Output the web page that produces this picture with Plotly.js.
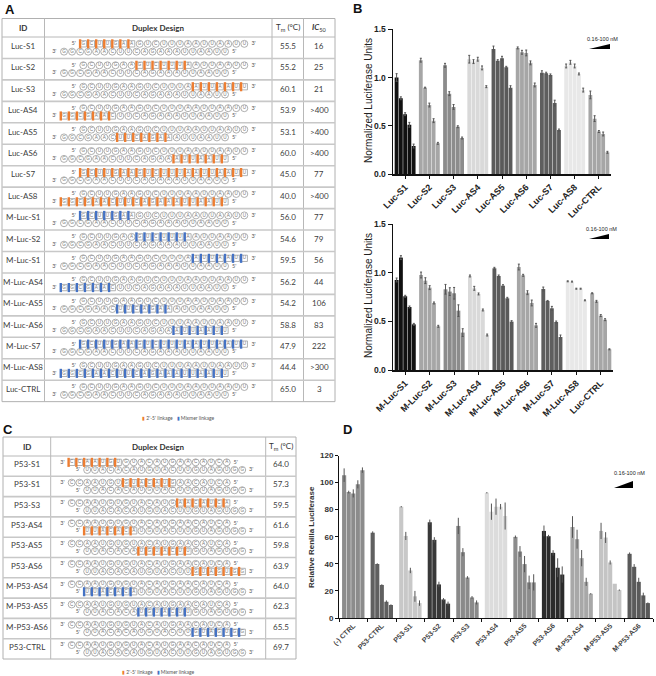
<!DOCTYPE html>
<html><head><meta charset="utf-8">
<script src="https://cdn.plot.ly/plotly-3.0.1.min.js"></script>
<style>html,body{margin:0;padding:0;background:#fff}#chart{width:656px;height:676px}</style>
</head><body><div id="chart"></div>
<script>
// ---------------- Panel A (table) ----------------
const lucSense = "GCUUGAAGUCUUUAAUUAAUU";        // 5'->3' (top line)
const lucAntisense = "GGCGAACUUCAGAAAUUAAUU";    // 3'->5' (bottom line)
const lucIds = ["Luc-S1","Luc-S2","Luc-S3","Luc-AS4","Luc-AS5","Luc-AS6","Luc-S7","Luc-AS8","M-Luc-S1","M-Luc-S2","M-Luc-S1","M-Luc-AS4","M-Luc-AS5","M-Luc-AS6","M-Luc-S7","M-Luc-AS8","Luc-CTRL"];
const lucTm = ["55.5","55.2","60.1","53.9","53.1","60.0","45.0","40.0","56.0","54.6","59.5","56.2","54.2","58.8","47.9","44.4","65.0"];
const lucIC50 = ["16","25","21",">400",">400",">400","77",">400","77","79","56","44","106","83","222",">300","3"];
const lucModStrand = ["S","S","S","AS","AS","AS","S","AS","S","S","S","AS","AS","AS","S","AS",""];
const lucModType = ["2'-5'","2'-5'","2'-5'","2'-5'","2'-5'","2'-5'","2'-5'","2'-5'","mix","mix","mix","mix","mix","mix","mix","mix",""];
const lucModStart = [0,7,14,0,7,14,0,0,0,7,14,0,7,14,0,0,-1];
const lucModEnd   = [6,13,20,6,13,20,20,20,6,13,20,6,13,20,20,20,-1];

// ---------------- Panel C (table) ----------------
const p53Top = "CCAAUGUGUACAUGAACAUCA";      // 3'->5' (top line)
const p53Bottom = "UUACACAUGUACUUGUAGUGG";   // 5'->3' (bottom line)
const p53Ids = ["P53-S1","P53-S1","P53-S3","P53-AS4","P53-AS5","P53-AS6","M-P53-AS4","M-P53-AS5","M-P53-AS6","P53-CTRL"];
const p53Tm = ["64.0","57.3","59.5","61.6","59.8","63.9","64.0","62.3","65.5","69.7"];
const p53ModStrand = ["S","S","S","AS","AS","AS","AS","AS","AS",""];
const p53ModType = ["2'-5'","2'-5'","2'-5'","2'-5'","2'-5'","2'-5'","mix","mix","mix",""];
const p53ModStart = [0,7,14,0,7,14,0,7,14,-1];
const p53ModEnd   = [6,13,20,6,13,20,6,13,20,-1];

// ---------------- Panel B (bar charts) ----------------
const lucGroups = ["Luc-S1","Luc-S2","Luc-S3","Luc-AS4","Luc-AS5","Luc-AS6","Luc-S7","Luc-AS8","Luc-CTRL"];
const lucValues = [
  [1.00,0.785,0.62,0.51,0.29],
  [1.18,0.895,0.715,0.553,0.318],
  [1.127,0.833,0.695,0.49,0.373],
  [1.19,1.165,1.19,1.10,0.905],
  [1.296,1.175,1.20,1.106,0.895],
  [1.307,1.262,1.255,1.152,0.923],
  [1.05,1.045,1.027,0.735,0.456],
  [1.12,1.158,1.12,1.037,0.87],
  [0.82,0.574,0.44,0.415,0.225]];
const lucErrors = [
  [0.04,0.015,0.015,0.025,0.02],
  [0.02,0.005,0.02,0.02,0.01],
  [0.02,0.02,0.025,0.01,0.01],
  [0.04,0.02,0.02,0.02,0.01],
  [0.03,0.01,0.02,0.01,0.02],
  [0.01,0.02,0.03,0.02,0.02],
  [0.02,0.01,0.01,0.03,0.01],
  [0.02,0.02,0.02,0.01,0.02],
  [0.04,0.03,0.01,0.02,0.01]];
const mlucGroups = ["M-Luc-S1","M-Luc-S2","M-Luc-S3","M-Luc-AS4","M-Luc-AS5","M-Luc-AS6","M-Luc-S7","M-Luc-AS8","Luc-CTRL"];
const mlucValues = [
  [0.927,1.157,0.759,0.649,0.47],
  [0.978,0.92,0.848,0.69,0.45],
  [0.831,0.807,0.79,0.611,0.385],
  [0.968,0.841,0.783,0.618,0.36],
  [1.047,0.968,0.868,0.738,0.498],
  [1.06,0.975,0.796,0.69,0.46],
  [0.834,0.711,0.635,0.494,0.34],
  [0.913,0.91,0.837,0.837,0.717],
  [0.79,0.707,0.56,0.518,0.213]];
const mlucErrors = [
  [0.02,0.02,0.01,0.01,0.01],
  [0.03,0.03,0.02,0.01,0.01],
  [0.05,0.04,0.06,0.06,0.04],
  [0.01,0.02,0.01,0.01,0.01],
  [0.01,0.01,0.01,0.01,0.01],
  [0.03,0.01,0.02,0.03,0.02],
  [0.02,0.005,0.02,0.01,0.02],
  [0.005,0.005,0.005,0.005,0.005],
  [0.005,0.01,0.01,0.01,0.005]];
const lucColors = ["#111111","#a6a6a6","#8c8c8c","#d9d9d9","#5a5a5a","#a6a6a6","#5e5e5e","#e8e8e8","#a6a6a6"];
const lucYTitle = "Normalized Luciferase Units";

// ---------------- Panel D (bar chart) ----------------
const p53Groups = ["(-) CTRL","P53-CTRL","P53-S1","P53-S2","P53-S3","P53-AS4","P53-AS5","P53-AS6","M-P53-AS4","M-P53-AS5","M-P53-AS6"];
const p53Values = [
  [105.5,93.0,92.0,98.7,109.2],
  [63.0,39.9,24.4,12.0,9.6],
  [82.2,60.6,35.1,16.0,11.0],
  [70.7,57.7,24.8,13.7,10.6],
  [68.0,48.6,29.9,15.2,11.5],
  [92.5,78.5,82.2,82.2,75.3],
  [59.9,49.1,39.8,26.3,26.3],
  [64.3,60.4,48.1,37.1,32.1],
  [67.2,58.2,44.2,26.7,17.9],
  [64.3,59.4,41.0,25.3,20.6],
  [47.4,37.8,26.7,16.7,11.0]];
const p53Errors = [
  [5,1,3,3,2],
  [1,0.5,0.5,1,0.5],
  [0.5,3,2,4,2],
  [2,2,2,1,1.5],
  [6,3,1,1,1.5],
  [0.5,6,6,2,10],
  [1,4,6,5,6],
  [4,1,2,7,6],
  [8,7,6,3,0.5],
  [6,4,1.5,0,0.5],
  [1,2,3,2,0.5]];
const p53Colors = ["#8c8c8c","#606060","#c8c8c8","#383838","#8a8a8a","#dcdcdc","#8c8c8c","#2b2b2b","#a8a8a8","#c4c4c4","#5a5a5a"];
const p53YTitle = "Relative Renilla Luciferase";

const rangeLabel = "0.16-100 nM";
const legendOrange = "2'-5' linkage";
const legendBlue = "Mixmer linkage";

// ================= build =================
const ORANGE = "#ED7D31", BLUE = "#4472C4";
const W = 656, H = 676;
const data = [];
const shapes = [];
const annotations = [];
const FONT = "Liberation Sans";
const TFONT = "Lato, 'Open Sans', sans-serif";

function barTraces(groups, values, errors, colors, xa, ya, slot, width, errColor, errW) {
  for (let k = 0; k < 5; k++) {
    data.push({type:"bar", x:groups, y:values.map(v => v[k]), xaxis:xa, yaxis:ya,
      marker:{color:colors, line:{width:0}}, width:width,
      offset:-2.5*slot + k*slot + (slot-width)/2,
      error_y:{type:"data", array:errors.map(e => e[k]), visible:true, color:errColor, thickness:1, width:errW},
      showlegend:false, hoverinfo:"x+y"});
  }
}
barTraces(lucGroups, lucValues, lucErrors, lucColors, "x", "y", 0.176, 0.158, "#555", 1);
barTraces(mlucGroups, mlucValues, mlucErrors, lucColors, "x2", "y2", 0.176, 0.158, "#555", 1);
barTraces(p53Groups, p53Values, p53Errors, p53Colors, "x4", "y4", 0.16, 0.145, "#555", 0);

// ---- tables on pixel overlay axis (x3/y3) ----
const nuc = {x:[], y:[], t:[]}, sq = {x:[], y:[], t:[]}, bo = {x:[], y:[]}, bb = {x:[], y:[]}, ends = {x:[], y:[], t:[]};
function line(x0,y0,x1,y1,c,w){ shapes.push({type:"line", xref:"x3", yref:"y3", x0, y0, x1, y1, line:{color:c, width:w}}); }
function txt(x, y, text, size, opts) {
  annotations.push(Object.assign({xref:"x3", yref:"y3", x, y, text, showarrow:false,
    font:{family:TFONT, size, color:"#404040"}, xanchor:"center", yanchor:"middle"}, opts||{}));
}
function strand(seq, x0, pitch, y, mods, modType, leftLab, rightLab) {
  for (let i = 0; i < seq.length; i++) {
    const x = x0 + i*pitch;
    if (mods && i >= mods[0] && i <= mods[1]) {
      sq.x.push(x); sq.y.push(y); sq.t.push(seq[i]);
      const tgt = modType === "2'-5'" ? bo : bb;
      tgt.x.push(x - pitch*0.4); tgt.y.push(y);
    } else { nuc.x.push(x); nuc.y.push(y); nuc.t.push(seq[i]); }
  }
  ends.x.push(x0 - pitch*1.2, x0 + (seq.length-1)*pitch + pitch*1.15);
  ends.y.push(y, y); ends.t.push(leftLab, rightLab);
}
function table(g, ids, modStrand, modType, modStart, modEnd, topSeq, botSeq, cols) {
  const n = ids.length;
  const bottom = g.headBot + n*g.rowH;
  line(g.left, g.top, g.right, g.top, "#b0b0b0", 1);
  line(g.left, bottom, g.right, bottom, "#b0b0b0", 1);
  line(g.left, g.top, g.left, bottom, "#b0b0b0", 1);
  line(g.right, g.top, g.right, bottom, "#b0b0b0", 1);
  g.cols.forEach(c => line(c, g.top, c, bottom, "#b8b8b8", 1));
  line(g.left, g.headBot, g.right, g.headBot, "#b8b8b8", 1);
  for (let r = 1; r < n; r++) line(g.left, g.headBot + r*g.rowH, g.right, g.headBot + r*g.rowH, "#c8c8c8", 1.6);
  const hy = (g.top + g.headBot)/2;
  const colL = [g.left].concat(g.cols), colR = g.cols.concat([g.right]);
  g.headers.forEach((h, j) => txt((colL[j]+colR[j])/2, hy, h, 8, {font:{family:TFONT, size:8, color:"#333"}}));
  for (let r = 0; r < n; r++) {
    const mid = g.headBot + (r+0.5)*g.rowH;
    txt((colL[0]+colR[0])/2, mid - 2, ids[r], 8);
    cols.forEach((arr, j) => txt((colL[j+2]+colR[j+2])/2, mid - 2, arr[r], 8));
    const mods = modStart[r] >= 0 ? [modStart[r], modEnd[r]] : null;
    strand(topSeq, g.topX0, g.pitch, mid - g.dy, modStrand[r] === "S" ? mods : null, modType[r], g.topLabs[0], g.topLabs[1]);
    strand(botSeq, g.botX0, g.pitch, mid + g.dy, modStrand[r] === "AS" ? mods : null, modType[r], g.botLabs[0], g.botLabs[1]);
  }
  return bottom;
}
const gA = {left:2, right:335, cols:[44.5,272,303.5], top:18.5, headBot:37, rowH:21.45, dy:3.9,
  topX0:83.3, botX0:64, pitch:8.05, topLabs:["5'","3'"], botLabs:["3'","5'"],
  headers:["<b>ID</b>","<b>Duplex Design</b>","T<sub>m</sub> (°C)","<b><i>IC</i></b><sub>50</sub>"]};
const bottomA = table(gA, lucIds, lucModStrand, lucModType, lucModStart, lucModEnd, lucSense, lucAntisense, [lucTm, lucIC50]);
const gC = {left:3, right:296, cols:[50.7,265.7], top:437, headBot:456, rowH:20.3, dy:3.8,
  topX0:71.7, botX0:87.2, pitch:7.75, topLabs:["3'","5'"], botLabs:["5'","3'"],
  headers:["<b>ID</b>","<b>Duplex Design</b>","T<sub>m</sub> (°C)"]};
const bottomC = table(gC, p53Ids, p53ModStrand, p53ModType, p53ModStart, p53ModEnd, p53Top, p53Bottom, [p53Tm]);

const legText = '<span style="color:'+ORANGE+'">▮</span> ' + legendOrange + '   <span style="color:'+BLUE+'">▮</span> ' + legendBlue;
txt(178, bottomA + 16, legText, 5, {font:{family:TFONT, size:5, color:"#555"}});
txt(158, bottomC + 13, legText, 5, {font:{family:TFONT, size:5, color:"#555"}});

data.push({type:"scatter", mode:"markers+text", x:nuc.x, y:nuc.y, text:nuc.t, xaxis:"x3", yaxis:"y3",
  marker:{symbol:"circle-open", size:7, color:"#9a9a9a", line:{width:0.8, color:"#9a9a9a"}},
  textposition:"middle center", textfont:{family:FONT, size:4.6, color:"#777"}, hoverinfo:"skip", showlegend:false, cliponaxis:false});
data.push({type:"scatter", mode:"markers+text", x:sq.x, y:sq.y, text:sq.t, xaxis:"x3", yaxis:"y3",
  marker:{symbol:"square-open", size:6.3, color:"#a0a0a0", line:{width:0.8, color:"#a0a0a0"}},
  textposition:"middle center", textfont:{family:FONT, size:4.6, color:"#777"}, hoverinfo:"skip", showlegend:false, cliponaxis:false});
data.push({type:"scatter", mode:"markers", x:bo.x, y:bo.y, xaxis:"x3", yaxis:"y3",
  marker:{symbol:"line-ns-open", size:6.5, color:ORANGE, line:{width:2.4, color:ORANGE}}, hoverinfo:"skip", showlegend:false, cliponaxis:false});
data.push({type:"scatter", mode:"markers", x:bb.x, y:bb.y, xaxis:"x3", yaxis:"y3",
  marker:{symbol:"line-ns-open", size:6.5, color:BLUE, line:{width:2.4, color:BLUE}}, hoverinfo:"skip", showlegend:false, cliponaxis:false});
data.push({type:"scatter", mode:"text", x:ends.x, y:ends.y, text:ends.t, xaxis:"x3", yaxis:"y3",
  textposition:"middle center", textfont:{family:TFONT, size:5.5, color:"#555"}, hoverinfo:"skip", showlegend:false, cliponaxis:false});

// ---- range wedges ----
function wedge(x0, x1, yb, yt, lx, ly) {
  shapes.push({type:"path", xref:"x3", yref:"y3", path:`M ${x0},${yb} L ${x1},${yb} L ${x1},${yt} Z`, fillcolor:"#000", line:{width:0}});
  annotations.push({xref:"x3", yref:"y3", x:lx, y:ly, text:rangeLabel, showarrow:false, font:{family:FONT, size:5.5, color:"#222"}, xanchor:"center", yanchor:"middle"});
}
wedge(589, 610, 49, 44, 602, 38.5);
wedge(589, 609, 239, 234, 601, 229);
wedge(614, 633, 488, 481, 629, 472.5);

// ---- y-axis titles (rotated text) ----
annotations.push({xref:"x3", yref:"y3", x:368, y:101, text:lucYTitle, textangle:-90, showarrow:false,
  font:{family:FONT, size:10, color:"#222"}, xanchor:"center", yanchor:"middle"});
annotations.push({xref:"x3", yref:"y3", x:368, y:296, text:lucYTitle, textangle:-90, showarrow:false,
  font:{family:FONT, size:10, color:"#222"}, xanchor:"center", yanchor:"middle"});
annotations.push({xref:"x3", yref:"y3", x:311, y:537, text:"<b>"+p53YTitle+"</b>", textangle:-90, showarrow:false,
  font:{family:FONT, size:8, color:"#333"}, xanchor:"center", yanchor:"middle"});

// ---- panel letters ----
[["A",10,9],["B",357,8],["C",8,429],["D",347,429]].forEach(p =>
  annotations.push({xref:"x3", yref:"y3", x:p[1], y:p[2], text:"<b>"+p[0]+"</b>", showarrow:false,
    font:{family:FONT, size:13, color:"#111"}, xanchor:"center", yanchor:"middle"}));

const ax = (dom, anchor, extra) => Object.assign({domain:dom, anchor, showline:true, linecolor:"#111", linewidth:1.5,
  ticks:"outside", ticklen:3, tickwidth:1, tickcolor:"#111", showgrid:false, zeroline:false, fixedrange:true}, extra);
const xB = {type:"category", range:[-0.5,8.5], tickangle:-45, tickfont:{family:FONT, size:9, color:"#222", weight:"bold"}};
const yB = {range:[0,1.5], tickvals:[0,0.5,1,1.5], ticktext:["0.0","0.5","1.0","1.5"], ticklen:4,
  tickfont:{family:FONT, size:8.5, color:"#222", weight:"bold"}};

const layout = {
  width:W, height:H, margin:{l:0,r:0,t:0,b:0}, paper_bgcolor:"#fff", plot_bgcolor:"rgba(0,0,0,0)",
  showlegend:false, barmode:"overlay",
  xaxis: ax([393/W, 611/W], "y", xB),
  yaxis: ax([1-174/H, 1-29.3/H], "x", yB),
  xaxis2: ax([393/W, 613/W], "y2", xB),
  yaxis2: ax([1-370/H, 1-224.3/H], "x2", yB),
  xaxis4: ax([339/W, 653/W], "y4", {type:"category", range:[-0.5,10.5], tickson:"boundaries", tickangle:-45, linewidth:1,
    tickfont:{family:FONT, size:7, color:"#444", weight:"bold"}}),
  yaxis4: ax([1-618/H, 1-455.5/H], "x4", {range:[0,120], dtick:20, linewidth:1, tickfont:{family:FONT, size:8, color:"#333", weight:"bold"}}),
  xaxis3: {domain:[0,1], anchor:"y3", range:[0,W], visible:false, fixedrange:true},
  yaxis3: {domain:[0,1], anchor:"x3", range:[H,0], visible:false, fixedrange:true},
  shapes, annotations
};
Plotly.newPlot("chart", data, layout, {displayModeBar:false, staticPlot:true});
</script></body></html>
